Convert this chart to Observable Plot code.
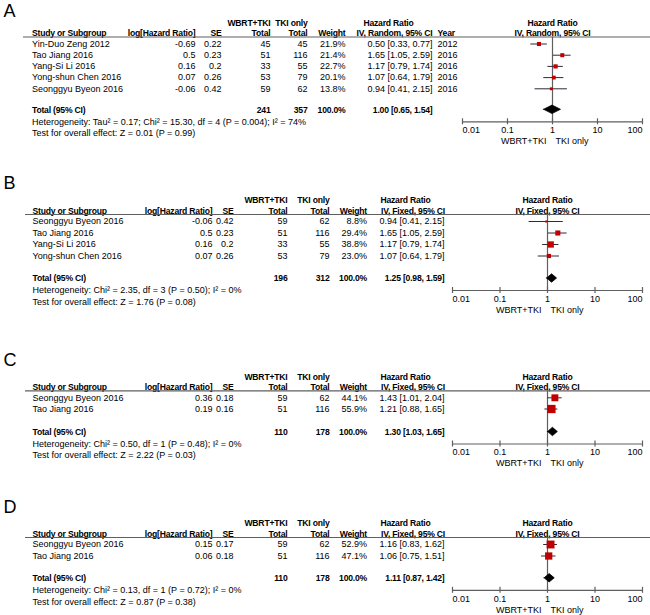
<!DOCTYPE html>
<html><head><meta charset="utf-8">
<script src="https://cdn.jsdelivr.net/npm/d3@7"></script>
<script src="https://cdn.jsdelivr.net/npm/@observablehq/plot@0.6"></script>
<style>
body{margin:0;background:#fff;}
#chart{width:650px;height:615px;overflow:hidden;background:#fff;}
#chart svg{display:block;}
#chart g[font-weight="bold"] text{letter-spacing:-0.2px;}
</style></head><body><div id="chart"></div>
<script>
// ---------- DATA ----------
const xTicks = [0.01, 0.1, 1, 10, 100];
const favourLabels = ["WBRT+TKI", "TKI only"];
const groupLabels = ["WBRT+TKI", "TKI only"];

// Panel A
const aStudy = ["Yin-Duo Zeng 2012", "Tao Jiang 2016", "Yang-Si Li 2016", "Yong-shun Chen 2016", "Seonggyu Byeon 2016"];
const aLogHR = [-0.69, 0.5, 0.16, 0.07, -0.06];
const aSE = [0.22, 0.23, 0.2, 0.26, 0.42];
const aWbrt = [45, 51, 33, 53, 59];
const aTki = [45, 116, 55, 79, 62];
const aWeight = [21.9, 21.4, 22.7, 20.1, 13.8];
const aHR = [0.50, 1.65, 1.17, 1.07, 0.94];
const aLo = [0.33, 1.05, 0.79, 0.64, 0.41];
const aHi = [0.77, 2.59, 1.74, 1.79, 2.15];
const aYear = [2012, 2016, 2016, 2016, 2016];
const aTotalN = [241, 357];
const aTotalHR = [1.00, 0.65, 1.54];
const aMethod = "IV, Random, 95% CI";
const aHet = "Heterogeneity: Tau\u00B2 = 0.17; Chi\u00B2 = 15.30, df = 4 (P = 0.004); I\u00B2 = 74%";
const aTest = "Test for overall effect: Z = 0.01 (P = 0.99)";

// Panel B
const bStudy = ["Seonggyu Byeon 2016", "Tao Jiang 2016", "Yang-Si Li 2016", "Yong-shun Chen 2016"];
const bLogHR = [-0.06, 0.5, 0.16, 0.07];
const bSE = [0.42, 0.23, 0.2, 0.26];
const bWbrt = [59, 51, 33, 53];
const bTki = [62, 116, 55, 79];
const bWeight = [8.8, 29.4, 38.8, 23.0];
const bHR = [0.94, 1.65, 1.17, 1.07];
const bLo = [0.41, 1.05, 0.79, 0.64];
const bHi = [2.15, 2.59, 1.74, 1.79];
const bTotalN = [196, 312];
const bTotalHR = [1.25, 0.98, 1.59];
const bMethod = "IV, Fixed, 95% CI";
const bHet = "Heterogeneity: Chi\u00B2 = 2.35, df = 3 (P = 0.50); I\u00B2 = 0%";
const bTest = "Test for overall effect: Z = 1.76 (P = 0.08)";

// Panel C
const cStudy = ["Seonggyu Byeon 2016", "Tao Jiang 2016"];
const cLogHR = [0.36, 0.19];
const cSE = [0.18, 0.16];
const cWbrt = [59, 51];
const cTki = [62, 116];
const cWeight = [44.1, 55.9];
const cHR = [1.43, 1.21];
const cLo = [1.01, 0.88];
const cHi = [2.04, 1.65];
const cTotalN = [110, 178];
const cTotalHR = [1.30, 1.03, 1.65];
const cMethod = "IV, Fixed, 95% CI";
const cHet = "Heterogeneity: Chi\u00B2 = 0.50, df = 1 (P = 0.48); I\u00B2 = 0%";
const cTest = "Test for overall effect: Z = 2.22 (P = 0.03)";

// Panel D
const dStudy = ["Seonggyu Byeon 2016", "Tao Jiang 2016"];
const dLogHR = [0.15, 0.06];
const dSE = [0.17, 0.18];
const dWbrt = [59, 51];
const dTki = [62, 116];
const dWeight = [52.9, 47.1];
const dHR = [1.16, 1.06];
const dLo = [0.83, 0.75];
const dHi = [1.62, 1.51];
const dTotalN = [110, 178];
const dTotalHR = [1.11, 0.87, 1.42];
const dMethod = "IV, Fixed, 95% CI";
const dHet = "Heterogeneity: Chi\u00B2 = 0.13, df = 1 (P = 0.72); I\u00B2 = 0%";
const dTest = "Test for overall effect: Z = 0.87 (P = 0.38)";

// ---------- LAYOUT (positions / styles) ----------
const colsA = {study: 31.5, log: 195, se: 221, wbrt: 270, tki: 307, w: 345, hr: 432, year: 437, hrHdr: [388, 394]};
const colsB = {study: 32, log: 212, se: 233, wbrt: 287, tki: 329, w: 366.5, hr: 444, hrHdr: [405, 412.5]};
const layouts = [
  {height: 150, r0: 43.5, sp: 11.2, gap: 21, letterY: 11, xr: [462, 642], cols: colsA, lineX0: 23},
  {height: 170, r0: 71, sp: 11.5, gap: 22.5, letterY: 33, xr: [452, 642], cols: colsB, lineX0: 25},
  {height: 160, r0: 77.3, sp: 11.2, gap: 23, letterY: 40, xr: [452, 642], cols: colsB, lineX0: 25},
  {height: 135, r0: 64, sp: 11.5, gap: 22.3, letterY: 26.5, xr: [452, 642], cols: colsB, lineX0: 25}
];
const FONT = "'Liberation Sans', Arial, Helvetica, sans-serif";
const FS = 9;      // regular text
const FB = 8.6;    // bold text
const RED = "#c00000";
const GRID = "#5f5f5f";
const CI = "#2b2b3a";

// ---------- BUILD ----------
const panels = [
  {key: "A", study: aStudy, log: aLogHR, se: aSE, wbrt: aWbrt, tki: aTki, w: aWeight, hr: aHR, lo: aLo, hi: aHi, year: aYear, totN: aTotalN, totHR: aTotalHR, method: aMethod, het: aHet, test: aTest},
  {key: "B", study: bStudy, log: bLogHR, se: bSE, wbrt: bWbrt, tki: bTki, w: bWeight, hr: bHR, lo: bLo, hi: bHi, year: null, totN: bTotalN, totHR: bTotalHR, method: bMethod, het: bHet, test: bTest},
  {key: "C", study: cStudy, log: cLogHR, se: cSE, wbrt: cWbrt, tki: cTki, w: cWeight, hr: cHR, lo: cLo, hi: cHi, year: null, totN: cTotalN, totHR: cTotalHR, method: cMethod, het: cHet, test: cTest},
  {key: "D", study: dStudy, log: dLogHR, se: dSE, wbrt: dWbrt, tki: dTki, w: dWeight, hr: dHR, lo: dLo, hi: dHi, year: null, totN: dTotalN, totHR: dTotalHR, method: dMethod, het: dHet, test: dTest}
];

const f2 = v => v.toFixed(2);
const hrText = (h, l, u) => `${f2(h)} [${f2(l)}, ${f2(u)}]`;

function makePanel(p, L) {
  const n = p.study.length;
  const C = L.cols;
  const rows = p.study.map((s, i) => ({
    i, study: s, log: p.log[i], se: p.se[i], wbrt: p.wbrt[i], tki: p.tki[i],
    w: p.w[i], hr: p.hr[i], lo: p.lo[i], hi: p.hi[i], year: p.year ? p.year[i] : null
  }));
  const u = px => (px - L.r0) / L.sp;
  const totalY = L.r0 + (n - 1) * L.sp + L.gap;
  const axisY = totalY + 12;
  const lineY = L.r0 - 7;
  const h1 = L.r0 - 21, h2 = L.r0 - 10.5;
  const yT = u(totalY);
  const dh = 4.2 / L.sp;
  const [tEst, tLo, tHi] = p.totHR;
  const diamond = [
    {x: tLo, a: yT, b: yT},
    {x: tEst, a: yT - dh, b: yT + dh},
    {x: tHi, a: yT, b: yT}
  ];
  const T = (data, opts) => Plot.text(data, {fontSize: FS, fill: "#000", frameAnchor: "left", ...opts});
  const TB = (data, opts) => T(data, {fontSize: FB, fontWeight: "bold", ...opts});
  const hdr = (label, yPx, dx, anchor) => TB([label], {text: d => d, y: () => u(yPx), dx, textAnchor: anchor});

  const marks = [
    // panel letter
    Plot.text([p.key], {text: d => d, y: () => u(L.letterY), frameAnchor: "left", dx: 3, textAnchor: "start", fontSize: 18, fill: "#000"}),
    // header row 1
    hdr(groupLabels[0], h1, C.wbrt, "end"),
    hdr(groupLabels[1], h1, C.tki, "end"),
    hdr("Hazard Ratio", h1, C.hrHdr[0], "middle"),
    Plot.text(["Hazard Ratio"], {text: d => d, x: () => 1, y: () => u(h1), fontSize: FB, fontWeight: "bold", fill: "#000"}),
    // header row 2
    hdr("Study or Subgroup", h2, C.study, "start"),
    hdr("log[Hazard Ratio]", h2, C.log, "end"),
    hdr("SE", h2, C.se, "end"),
    hdr("Total", h2, C.wbrt, "end"),
    hdr("Total", h2, C.tki, "end"),
    hdr("Weight", h2, C.w, "end"),
    hdr(p.method, h2, C.hrHdr[1], "middle"),
    Plot.text([p.method], {text: d => d, x: () => 1, y: () => u(h2), fontSize: FB, fontWeight: "bold", fill: "#000"}),
    // header rule
    Plot.ruleY([u(lineY)], {y: d => d, insetLeft: L.lineX0, stroke: GRID, strokeWidth: 1.2}),
    // study rows
    T(rows, {y: "i", text: "study", dx: C.study, textAnchor: "start"}),
    T(rows, {y: "i", text: d => String(d.log), dx: C.log, textAnchor: "end"}),
    T(rows, {y: "i", text: d => String(d.se), dx: C.se, textAnchor: "end"}),
    T(rows, {y: "i", text: d => String(d.wbrt), dx: C.wbrt, textAnchor: "end"}),
    T(rows, {y: "i", text: d => String(d.tki), dx: C.tki, textAnchor: "end"}),
    T(rows, {y: "i", text: d => d.w.toFixed(1) + "%", dx: C.w, textAnchor: "end"}),
    T(rows, {y: "i", text: d => hrText(d.hr, d.lo, d.hi), dx: C.hr, textAnchor: "end"}),
    // total row
    TB(["Total (95% CI)"], {text: d => d, y: () => yT, dx: C.study, textAnchor: "start"}),
    TB([p.totN[0]], {text: d => String(d), y: () => yT, dx: C.wbrt, textAnchor: "end"}),
    TB([p.totN[1]], {text: d => String(d), y: () => yT, dx: C.tki, textAnchor: "end"}),
    TB([100], {text: d => d.toFixed(1) + "%", y: () => yT, dx: C.w, textAnchor: "end"}),
    TB([p.totHR], {text: d => hrText(d[0], d[1], d[2]), y: () => yT, dx: C.hr, textAnchor: "end"}),
    T([p.het], {text: d => d, y: () => u(totalY + 12), dx: C.study, textAnchor: "start"}),
    T([p.test], {text: d => d, y: () => u(totalY + 23.5), dx: C.study, textAnchor: "start"}),
    // forest plot structure
    Plot.ruleX([1], {x: d => d, y1: () => u(lineY), y2: () => u(axisY), stroke: GRID, strokeWidth: 1.2}),
    Plot.ruleY([u(axisY)], {y: d => d, x1: () => xTicks[0], x2: () => xTicks[xTicks.length - 1], stroke: GRID, strokeWidth: 1.2}),
    Plot.ruleX(xTicks, {x: d => d, y1: () => u(axisY - 3), y2: () => u(axisY + 3), stroke: GRID, strokeWidth: 1.2}),
    Plot.text(xTicks.slice(0, 1), {x: d => d, y: () => u(axisY + 8.5), text: d => String(d), textAnchor: "start", fontSize: FS, fill: "#000"}),
    Plot.text(xTicks.slice(1, -1), {x: d => d, y: () => u(axisY + 8.5), text: d => String(d), textAnchor: "middle", fontSize: FS, fill: "#000"}),
    Plot.text(xTicks.slice(-1), {x: d => d, y: () => u(axisY + 8.5), text: d => String(d), textAnchor: "end", fontSize: FS, fill: "#000"}),
    Plot.text([favourLabels[0]], {x: () => 1, y: () => u(axisY + 19.5), text: d => d, textAnchor: "end", dx: -6, fontSize: FS, fill: "#000"}),
    Plot.text([favourLabels[1]], {x: () => 1, y: () => u(axisY + 19.5), text: d => d, textAnchor: "start", dx: 3, fontSize: FS, fill: "#000"}),
    // CI whiskers and weight squares
    Plot.ruleY(rows, {y: "i", x1: "lo", x2: "hi", stroke: CI, strokeWidth: 1}),
    Plot.dot(rows, {x: "hr", y: "i", r: "w", symbol: "square", fill: RED, stroke: "none"}),
    // pooled diamond
    Plot.areaY(diamond, {x: "x", y1: "a", y2: "b", fill: "#000", stroke: "#000", strokeWidth: 0.8})
  ];
  if (p.year) {
    marks.push(hdr("Year", h2, C.year, "start"));
    marks.push(T(rows, {y: "i", text: d => String(d.year), dx: C.year, textAnchor: "start"}));
  }
  return Plot.plot({
    width: 650,
    height: L.height,
    margin: 0,
    x: {type: "log", domain: [xTicks[0], xTicks[xTicks.length - 1]], range: L.xr, axis: null},
    y: {type: "linear", domain: [0, 1], range: [L.r0, L.r0 + L.sp], axis: null},
    r: {type: "pow", exponent: 0.75, domain: [0, 100], range: [0, 7.2]},
    style: {fontFamily: FONT, fontSize: FS + "px", background: "white", overflow: "visible", color: "#000"},
    marks
  });
}

const root = document.getElementById("chart");
panels.forEach((p, k) => root.appendChild(makePanel(p, layouts[k])));
</script>
</body></html>
